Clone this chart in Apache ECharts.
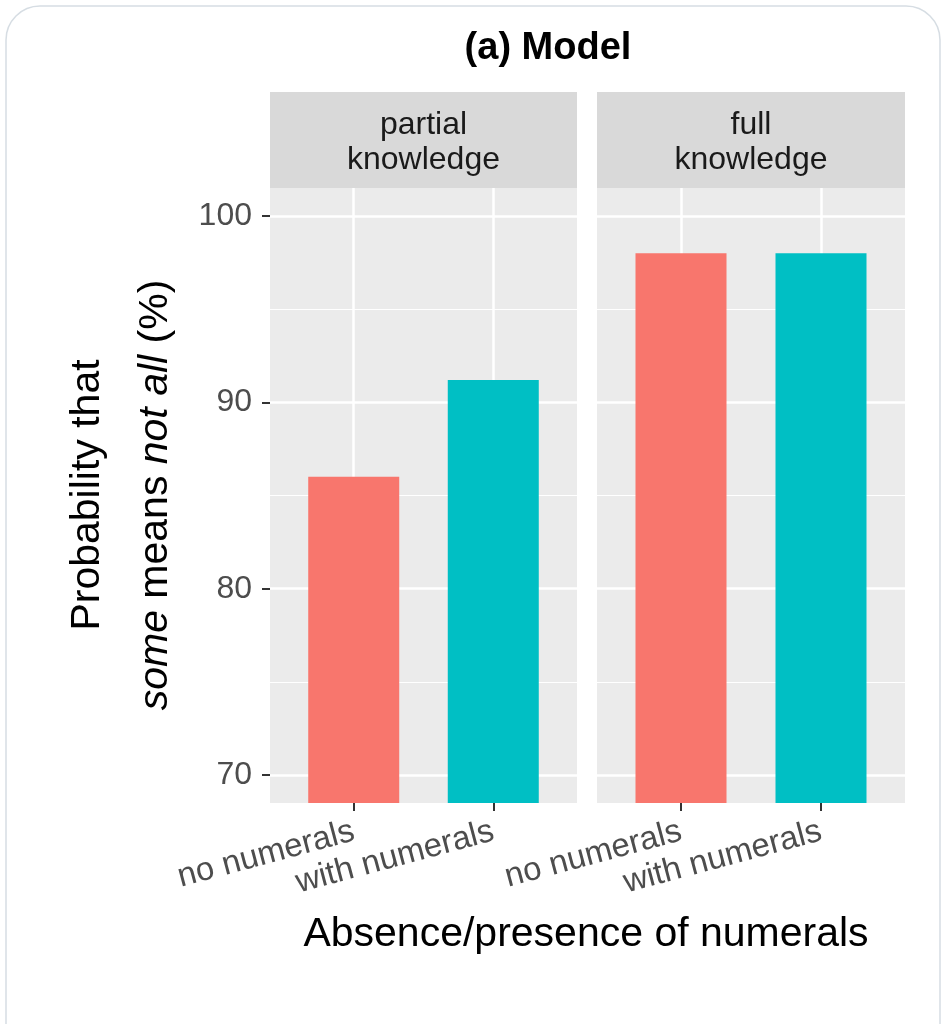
<!DOCTYPE html>
<html><head><meta charset="utf-8">
<script src="https://cdn.jsdelivr.net/npm/echarts@6/dist/echarts.min.js"></script>
<style>html,body{margin:0;padding:0;background:#fff}#c{width:946px;height:1024px}</style>
</head><body><div id="c"></div>
<script>
// ---- data ----
const chartTitle = '(a) Model';
const facets = ['partial\nknowledge', 'full\nknowledge'];
const categories = ['no numerals', 'with numerals'];
const partialValues = [86.0, 91.2];
const fullValues = [98.0, 98.0];
const yMajorTicks = [70, 80, 90, 100];
const yMinorTicks = [75, 85, 95];
const xTickPositions = [1, 2];
const barColors = ['#F8766D', '#00BFC4'];
const xTitle = 'Absence/presence of numerals';

const FONT = '"Liberation Sans", Arial, Helvetica, sans-serif';
const panels = [
  {left: 270, width: 307, values: partialValues},
  {left: 597, width: 308, values: fullValues}
];
const TOP = 188, HEIGHT = 615, STRIP_TOP = 92;

const grids = [], xAxes = [], yAxes = [], series = [], graphics = [];

graphics.push({type: 'rect', shape: {x: 6, y: 6, width: 934, height: 1060, r: 34},
  style: {fill: 'none', stroke: '#D6DDE3', lineWidth: 1.5}, silent: true});

panels.forEach((p, i) => {
  grids.push({left: p.left, top: TOP, width: p.width, height: HEIGHT,
    show: true, backgroundColor: '#EBEBEB', borderWidth: 0, containLabel: false});
  xAxes.push({
    type: 'value', gridIndex: i, min: 0.4, max: 2.6,
    axisLine: {show: false},
    axisTick: {show: true, customValues: xTickPositions, length: 8, lineStyle: {color: '#333333', width: 2}},
    axisLabel: {show: true, customValues: xTickPositions, formatter: v => categories[Math.round(v) - 1],
      rotate: 15, fontSize: 33, color: '#4D4D4D', fontFamily: FONT, margin: 28},
    splitLine: {show: true, lineStyle: {color: '#FFFFFF', width: 2.5}}
  });
  // major y
  yAxes.push({
    type: 'value', gridIndex: i, min: 68.5, max: 101.5,
    axisLine: {show: false},
    axisTick: {show: i === 0, customValues: yMajorTicks, length: 8, lineStyle: {color: '#333333', width: 2}},
    axisLabel: {show: i === 0, customValues: yMajorTicks, fontSize: 32, color: '#4D4D4D', fontFamily: FONT, margin: 18},
    splitLine: {show: true, lineStyle: {color: '#FFFFFF', width: 2.5}}
  });
  // minor y
  yAxes.push({
    type: 'value', gridIndex: i, min: 68.5, max: 101.5, position: 'left',
    axisLine: {show: false},
    axisTick: {show: false, customValues: yMinorTicks},
    axisLabel: {show: false, customValues: yMinorTicks},
    splitLine: {show: true, lineStyle: {color: '#FFFFFF', width: 1.2}}
  });
  series.push({
    type: 'bar', xAxisIndex: i, yAxisIndex: i * 2, barWidth: 91, clip: true,
    data: p.values.map((v, k) => ({value: [xTickPositions[k], v], itemStyle: {color: barColors[k]}})),
    silent: true
  });
  // facet strip
  graphics.push({type: 'rect', shape: {x: p.left, y: STRIP_TOP, width: p.width, height: TOP - STRIP_TOP},
    style: {fill: '#D9D9D9'}, silent: true});
  graphics.push({type: 'text', x: p.left + p.width / 2, y: (STRIP_TOP + TOP) / 2 + 3,
    style: {text: facets[i], fontSize: 32, fontFamily: FONT, fill: '#1A1A1A',
      textAlign: 'center', textVerticalAlign: 'middle', lineHeight: 35}, silent: true});
});

graphics.push({type: 'text', x: 548, y: 49,
  style: {text: chartTitle, fontSize: 38, fontWeight: 'bold', fontFamily: FONT, fill: '#000',
    textAlign: 'center', textVerticalAlign: 'middle'}, silent: true});
graphics.push({type: 'text', x: 586, y: 935,
  style: {text: xTitle, fontSize: 41, fontFamily: FONT, fill: '#000',
    textAlign: 'center', textVerticalAlign: 'middle'}, silent: true});
graphics.push({type: 'text', x: 122, y: 495, rotation: Math.PI / 2,
  style: {text: 'Probability that\n{i|some} means {i|not all} (%)', fontSize: 41, fontFamily: FONT, fill: '#000',
    textAlign: 'center', textVerticalAlign: 'middle', lineHeight: 68,
    rich: {i: {fontStyle: 'italic', fontSize: 41, fontFamily: FONT, fill: '#000', lineHeight: 68}}}, silent: true});

const chart = echarts.init(document.getElementById('c'), null, {renderer: 'canvas'});
chart.setOption({
  backgroundColor: '#FFFFFF',
  animation: false,
  grid: grids, xAxis: xAxes, yAxis: yAxes, series: series,
  graphic: graphics
});
</script></body></html>
